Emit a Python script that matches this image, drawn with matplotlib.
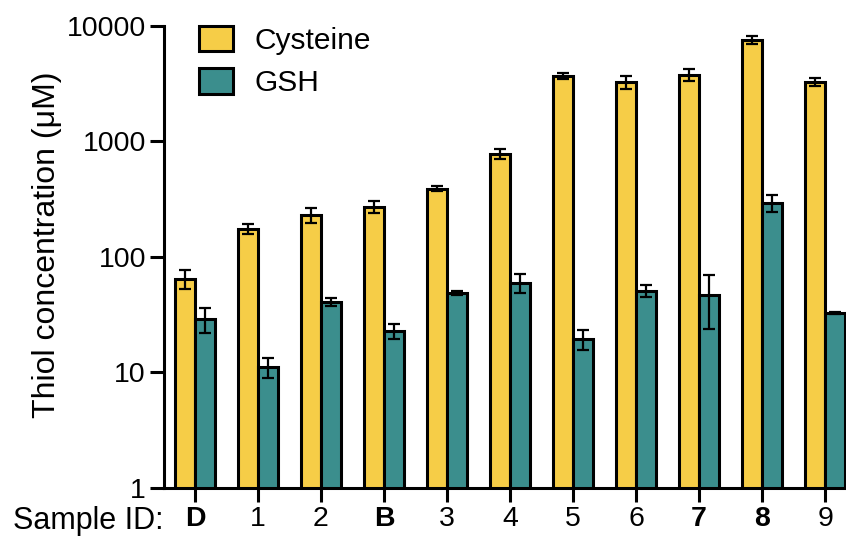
import numpy as np
from matplotlib import pyplot as plt
import matplotlib.ticker as ticker

plt.rcParams["font.family"] = ["Liberation Sans", "DejaVu Sans"]

samples = ["D", "1", "2", "B", "3", "4", "5", "6", "7", "8", "9"]
bold_samples = ["D", "B", "7", "8"]

cys = [65, 175, 231, 271, 390, 780, 3690, 3270, 3770, 7570, 3270]
cys_err = [12, 17, 35, 32, 20, 80, 200, 400, 450, 600, 250]
gsh = [29, 11.2, 40.8, 22.9, 48.8, 59.6, 19.5, 50.8, 47, 294, 32.7]
gsh_err = [7, 2.2, 3, 3.4, 2, 11, 3.8, 6, 23, 50, 0.8]

yellow = "#F6CD47"
teal = "#3B8E8D"

fig = plt.figure(figsize=(8.46, 5.4), dpi=100)
ax = fig.add_axes([0.1939, 0.0963, 0.806, 0.8556])

x = np.arange(len(samples))
w = 0.315
err_kw = dict(elinewidth=1.6, capthick=1.6, capsize=4.5, ecolor="black")

ax.bar(x - w / 2, cys, w, yerr=cys_err, color=yellow, edgecolor="black",
       linewidth=2.2, label="Cysteine", error_kw=err_kw)
ax.bar(x + w / 2, gsh, w, yerr=gsh_err, color=teal, edgecolor="black",
       linewidth=2.2, label="GSH", error_kw=err_kw)

ax.set_yscale("log")
ax.set_ylim(1, 10000)
ax.set_xlim(-0.49, 10.33)
ax.yaxis.set_major_locator(ticker.FixedLocator([1, 10, 100, 1000, 10000]))
ax.yaxis.set_minor_locator(ticker.NullLocator())
ax.yaxis.set_major_formatter(ticker.FuncFormatter(lambda v, p: f"{v:.0f}"))

ax.set_xticks(x)
ax.set_xticklabels(samples)
for lbl in ax.get_xticklabels():
    if lbl.get_text() in bold_samples:
        lbl.set_fontweight("bold")

ax.tick_params(axis="both", labelsize=20.5, width=2.2, length=10, color="black")
ax.tick_params(axis="y", pad=3)
ax.tick_params(axis="x", pad=3)

for s in ["top", "right"]:
    ax.spines[s].set_visible(False)
for s in ["left", "bottom"]:
    ax.spines[s].set_linewidth(2.2)

ax.set_ylabel("Thiol concentration (μM)", fontsize=23)
ax.yaxis.set_label_coords(-0.15, 0.527)

# label to the left of the sample ticks
fig.text(163 / 846, 1 - 521 / 540, "Sample ID:", fontsize=22, ha="right", va="center")

ax.legend(loc="upper left", bbox_to_anchor=(0.012, 1.059), frameon=False,
          fontsize=21.5, handlelength=1.15, handleheight=0.95, labelspacing=0.45,
          handletextpad=0.7)

fig.savefig("out.png", dpi=100)
